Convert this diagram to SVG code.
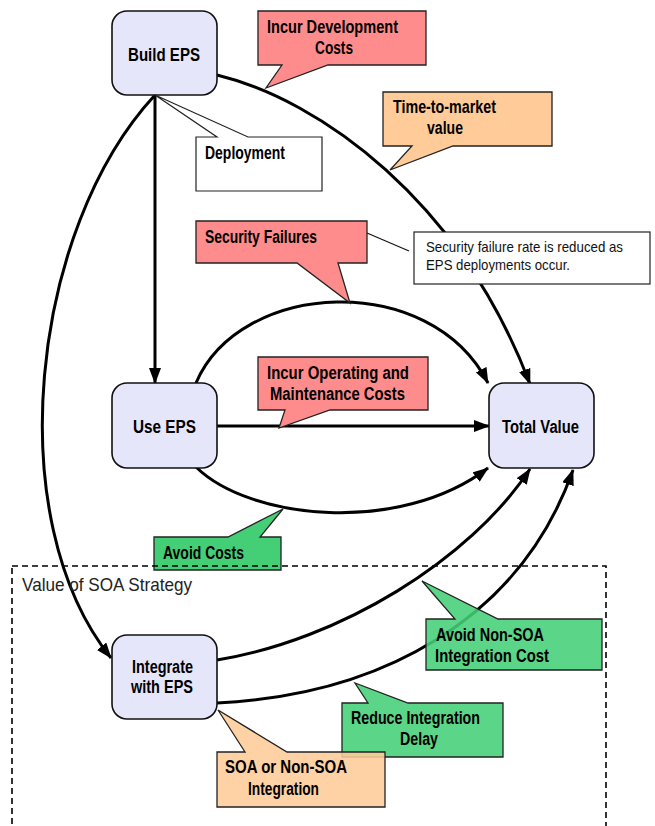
<svg xmlns="http://www.w3.org/2000/svg" width="655" height="826" viewBox="0 0 655 826">
<style>
.node{fill:#E6E6FB;stroke:#111;stroke-width:1.6}
.lbl{font-family:"Liberation Sans",Arial,sans-serif;font-weight:bold;font-size:18px;fill:#000}
.note{font-family:"Liberation Sans",Arial,sans-serif;font-size:14.5px;fill:#111}
.conn{fill:none;stroke:#000;stroke-width:3}
.red{fill:#FF8C8C;stroke:#222;stroke-width:1.3}
.peach{fill:#FFCC99;stroke:#222;stroke-width:1.3}
.green{fill:#44CF76;stroke:#222;stroke-width:1.3}
.white{fill:#fff;stroke:#222;stroke-width:1.2}
.trans{fill-opacity:0.88}
</style>
<defs>
<marker id="ah" markerUnits="userSpaceOnUse" markerWidth="16" markerHeight="12" viewBox="0 0 16 12" refX="15" refY="6" orient="auto">
<path d="M0,0 L16,6 L0,12 Z" fill="#000"/>
</marker>
</defs>
<g id="connectors">
<path class="conn" d="M155,95 L155,383" marker-end="url(#ah)"/>
<path class="conn" d="M155,95 C30,230 0,520 111,658" marker-end="url(#ah)"/>
<path class="conn" d="M217,75 C320,100 460,200 530,384" marker-end="url(#ah)"/>
<path class="conn" d="M196,383 C240,280 430,270 488,383" marker-end="url(#ah)"/>
<path class="conn" d="M217,426 L489,426" marker-end="url(#ah)"/>
<path class="conn" d="M196,467 C250,520 400,535 488,468" marker-end="url(#ah)"/>
<path class="conn" d="M217,660 C340,640 470,560 530,469" marker-end="url(#ah)"/>
<path class="conn" d="M217,703 C380,695 520,620 573,470" marker-end="url(#ah)"/>
<path d="M367,233 L409,251" fill="none" stroke="#111" stroke-width="1.2"/>
</g>
<g id="build-eps">
<rect class="node" x="112" y="11" width="105" height="84" rx="15"/>
<text class="lbl" x="128" y="61" textLength="72" lengthAdjust="spacingAndGlyphs">Build  EPS</text>
</g>
<g id="use-eps">
<rect class="node" x="112" y="383" width="105" height="85" rx="15"/>
<text class="lbl" x="133" y="433" textLength="63" lengthAdjust="spacingAndGlyphs">Use EPS</text>
</g>
<g id="total-value">
<rect class="node" x="489" y="383" width="105" height="85" rx="15"/>
<text class="lbl" x="502" y="433" textLength="77" lengthAdjust="spacingAndGlyphs">Total Value</text>
</g>
<g id="integrate-eps">
<rect class="node" x="112" y="635" width="105" height="84" rx="15"/>
<text class="lbl" x="132" y="673" textLength="61" lengthAdjust="spacingAndGlyphs">Integrate</text>
<text class="lbl" x="131" y="693" textLength="62" lengthAdjust="spacingAndGlyphs">with EPS</text>
</g>
<g id="incur-dev-costs">
<path class="red" d="M258,11 H426 V65 H328 L266,88 L282,65 H258 Z"/>
<text class="lbl" x="267" y="33" textLength="131" lengthAdjust="spacingAndGlyphs">Incur  Development</text>
<text class="lbl" x="315" y="54" textLength="38" lengthAdjust="spacingAndGlyphs">Costs</text>
</g>
<g id="time-to-market">
<path class="peach" d="M383,92 H552 V146 H453 L390,170 L412,146 H383 Z"/>
<text class="lbl" x="393" y="113" textLength="103" lengthAdjust="spacingAndGlyphs">Time-to-market</text>
<text class="lbl" x="427" y="134" textLength="36" lengthAdjust="spacingAndGlyphs">value</text>
</g>
<g id="deployment">
<path class="white" d="M196,137 H217 L155,95 L248,137 H322 V191 H196 Z"/>
<text class="lbl" x="205" y="159" textLength="80" lengthAdjust="spacingAndGlyphs">Deployment</text>
</g>
<g id="security-failures">
<path class="red" d="M196,221 H367 V263 H338 L350,303 L297,263 H196 Z"/>
<text class="lbl" x="205" y="243" textLength="112" lengthAdjust="spacingAndGlyphs">Security Failures</text>
</g>
<g id="security-note">
<rect class="white" x="414" y="232" width="236" height="52"/>
<text class="note" x="426" y="252" textLength="197" lengthAdjust="spacingAndGlyphs">Security failure rate is reduced as</text>
<text class="note" x="426" y="270" textLength="144" lengthAdjust="spacingAndGlyphs">EPS deployments occur.</text>
</g>
<g id="incur-op-costs">
<path class="red" d="M258,357 H428 V410 H330 L279,428 L285,410 H258 Z"/>
<text class="lbl" x="267" y="379" textLength="142" lengthAdjust="spacingAndGlyphs">Incur  Operating  and</text>
<text class="lbl" x="270" y="400" textLength="135" lengthAdjust="spacingAndGlyphs">Maintenance  Costs</text>
</g>
<g id="avoid-costs">
<path class="green" d="M154,537 H228 L283,509 L260,537 H281 V570 H154 Z"/>
<text class="lbl" x="163" y="559" textLength="81" lengthAdjust="spacingAndGlyphs">Avoid Costs</text>
</g>
<g id="avoid-non-soa">
<path class="green trans" d="M426,619 H455 L422,581 L498,619 H602 V670 H426 Z"/>
<text class="lbl" x="436" y="641" textLength="108" lengthAdjust="spacingAndGlyphs">Avoid Non-SOA</text>
<text class="lbl" x="435" y="662" textLength="114" lengthAdjust="spacingAndGlyphs">Integration   Cost</text>
</g>
<g id="reduce-delay">
<path class="green trans" d="M342,703 H368 L355,683 L408,703 H503 V757 H342 Z"/>
<text class="lbl" x="351" y="724" textLength="129" lengthAdjust="spacingAndGlyphs">Reduce Integration</text>
<text class="lbl" x="400" y="745" textLength="38" lengthAdjust="spacingAndGlyphs">Delay</text>
</g>
<g id="soa-integration">
<path class="peach trans" d="M217,752 H245 L218,710 L287,752 H385 V807 H217 Z"/>
<text class="lbl" x="225" y="773" textLength="122" lengthAdjust="spacingAndGlyphs">SOA or Non-SOA</text>
<text class="lbl" x="248" y="795" textLength="71" lengthAdjust="spacingAndGlyphs">Integration</text>
</g>
<g id="soa-strategy">
<rect x="12" y="566" width="594" height="275" fill="none" stroke="#000" stroke-width="1.6" stroke-dasharray="6,4"/>
<text x="22" y="591" font-family="'Liberation Sans',Arial,sans-serif" font-size="19" fill="#222" textLength="170" lengthAdjust="spacingAndGlyphs">Value of SOA Strategy</text>
</g>
</svg>
